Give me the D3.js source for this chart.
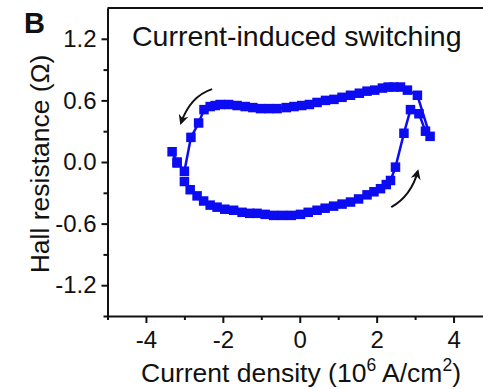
<!DOCTYPE html>
<html lang="en">
  <head>
    <meta charset="UTF-8" />
    <title>Current-induced switching</title>
    <script src="https://d3js.org/d3.v7.min.js"></script>
    <style>
      body {
        margin: 0;
        background: #fff;
      }
      text {
        font-family: Arial, "Liberation Sans", sans-serif;
        fill: #111;
      }
      .axis path,
      .axis line {
        stroke: #111;
        stroke-width: 2px;
      }
    </style>
  </head>
  <body>
    <div id="chart"></div>
    <script>
      // current sweep, in 10^6 A/cm^2
      var currentDensity = [
        -3.0, -2.85, -2.67, -2.5, -2.33, -2.15, -1.95, -1.72, -1.5, -1.3,
        -1.11, -0.9, -0.68, -0.45, -0.22, 0.02, 0.22, 0.45, 0.66, 0.88,
        1.1, 1.32, 1.53, 1.75, 1.93, 2.1, 2.25, 2.36, 2.49, 2.71,
        2.88, 3.1, 3.27, 3.39, 3.06, 2.8, 2.62, 2.45, 2.3, 2.15,
        1.95, 1.75, 1.55, 1.32, 1.1, 0.89, 0.67, 0.45, 0.25, 0.05,
        -0.15, -0.35, -0.59, -0.8, -1.02, -1.22, -1.42, -1.63, -1.85, -2.07,
        -2.2, -2.33, -2.49, -2.63, -2.83, -3.0, -3.19, -3.32, -3.19
      ];
      // Hall resistance, in ohm
      var hallResistance = [
        -0.19, -0.27, -0.33, -0.38, -0.42, -0.44, -0.46, -0.47, -0.49, -0.5,
        -0.5, -0.51, -0.52, -0.52, -0.52, -0.51, -0.49, -0.47, -0.45, -0.43,
        -0.41, -0.39, -0.36, -0.32, -0.29, -0.26, -0.22, -0.18, -0.05, 0.28,
        0.51, 0.47, 0.3, 0.25, 0.65, 0.7, 0.73, 0.73, 0.73, 0.72,
        0.7, 0.69, 0.67, 0.65, 0.63, 0.61, 0.6, 0.58, 0.56, 0.55,
        0.54, 0.53, 0.52, 0.52, 0.52, 0.53, 0.54, 0.55, 0.56, 0.56,
        0.55, 0.54, 0.51, 0.38, 0.24, -0.09, 0.0, 0.1, -0.01
      ];

      var xMajorTicks = [-4, -2, 0, 2, 4];
      var xMinorTicks = [-5, -3, -1, 1, 3, 5];
      var yMajorTicks = [-1.2, -0.6, 0.0, 0.6, 1.2];
      var yMinorTicks = [-1.5, -0.9, -0.3, 0.3, 0.9];

      // sweep direction arrows: start, bend, end (data units)
      var arrowTopLeft = [[-2.28, 0.71], [-2.85, 0.64], [-3.09, 0.38]];
      var arrowBottomRight = [[2.38, -0.44], [2.9, -0.33], [3.07, -0.09]];

      var width = 483,
        height = 389;
      var margin = { top: 8, right: -9, bottom: 73, left: 107.5 };

      var data = currentDensity.map((d, i) => ({ x: d, y: hallResistance[i] }));

      var svg = d3
        .select("#chart")
        .append("svg")
        .attr("width", width)
        .attr("height", height);

      var x = d3
        .scaleLinear()
        .domain([-5, 5])
        .range([margin.left, width - margin.right]);
      var y = d3
        .scaleLinear()
        .domain([-1.5, 1.5])
        .range([height - margin.bottom, margin.top]);

      var blue = "#0c0cf2";
      var fmt = (d) => d3.format(".1f")(d).replace("−", "-");

      // top frame line
      svg
        .append("line")
        .attr("x1", x(-5))
        .attr("x2", x(5))
        .attr("y1", y(1.5))
        .attr("y2", y(1.5))
        .attr("stroke", "#111")
        .attr("stroke-width", 2);

      // x axis
      svg
        .append("g")
        .attr("class", "axis")
        .attr("transform", "translate(0," + y(-1.5) + ")")
        .call(d3.axisBottom(x).tickValues(xMinorTicks).tickSize(4).tickFormat(""))
        .call((g) => g.select(".domain").remove());
      svg
        .append("g")
        .attr("class", "axis")
        .attr("transform", "translate(0," + y(-1.5) + ")")
        .call(
          d3
            .axisBottom(x)
            .tickValues(xMajorTicks)
            .tickSize(7)
            .tickSizeOuter(0)
            .tickPadding(8)
            .tickFormat((d) => String(d))
        )
        .call((g) => g.selectAll("text").style("font-size", "24px").attr("fill", "#111"));

      // y axis
      svg
        .append("g")
        .attr("class", "axis")
        .attr("transform", "translate(" + x(-5) + ",0)")
        .call(d3.axisLeft(y).tickValues(yMinorTicks).tickSize(4).tickFormat(""))
        .call((g) => g.select(".domain").remove());
      svg
        .append("g")
        .attr("class", "axis")
        .attr("transform", "translate(" + x(-5) + ",0)")
        .call(
          d3
            .axisLeft(y)
            .tickValues(yMajorTicks)
            .tickSize(6)
            .tickSizeOuter(0)
            .tickPadding(5)
            .tickFormat(fmt)
        )
        .call((g) => g.selectAll("text").style("font-size", "24px").attr("fill", "#111"));

      // axis titles
      svg
        .append("text")
        .attr("transform", "translate(49," + (y(0) + 2) + ") rotate(-90)")
        .attr("text-anchor", "middle")
        .style("font-size", "26.5px")
        .text("Hall resistance (Ω)");

      var xt = svg
        .append("text")
        .attr("x", 301)
        .attr("y", 382)
        .attr("text-anchor", "middle")
        .style("font-size", "26.5px");
      xt.append("tspan").text("Current density (10");
      xt.append("tspan").attr("dy", -11).style("font-size", "17.5px").text("6");
      xt.append("tspan").attr("dy", 11).text(" A/cm");
      xt.append("tspan").attr("dy", -11).style("font-size", "17.5px").text("2");
      xt.append("tspan").attr("dy", 11).text(")");

      svg
        .append("text")
        .attr("x", 24)
        .attr("y", 33)
        .style("font-size", "29px")
        .style("font-weight", "bold")
        .text("B");

      svg
        .append("text")
        .attr("x", 132)
        .attr("y", 46)
        .style("font-size", "28.5px")
        .text("Current-induced switching");

      // connecting line and square markers
      var line = d3
        .line()
        .x((d) => x(d.x))
        .y((d) => y(d.y));

      svg
        .append("path")
        .datum(data)
        .attr("d", line)
        .attr("fill", "none")
        .attr("stroke", blue)
        .attr("stroke-width", 2.5);

      var sq = 9.5;
      svg
        .append("g")
        .selectAll("rect")
        .data(data)
        .enter()
        .append("rect")
        .attr("x", (d) => x(d.x) - sq / 2)
        .attr("y", (d) => y(d.y) - sq / 2)
        .attr("width", sq)
        .attr("height", sq)
        .attr("fill", blue);

      // sweep arrows
      svg
        .append("defs")
        .append("marker")
        .attr("id", "head")
        .attr("viewBox", "0 0 10 10")
        .attr("refX", 8)
        .attr("refY", 5)
        .attr("markerWidth", 5)
        .attr("markerHeight", 5)
        .attr("orient", "auto")
        .append("path")
        .attr("d", "M0,0 L10,5 L0,10 L3,5 Z")
        .attr("fill", "#111");

      [arrowTopLeft, arrowBottomRight].forEach((a) => {
        var p = a.map((d) => [x(d[0]), y(d[1])]);
        svg
          .append("path")
          .attr("d", "M" + p[0] + " Q" + p[1] + " " + p[2])
          .attr("fill", "none")
          .attr("stroke", "#111")
          .attr("stroke-width", 2)
          .attr("marker-end", "url(#head)");
      });
    </script>
  </body>
</html>
